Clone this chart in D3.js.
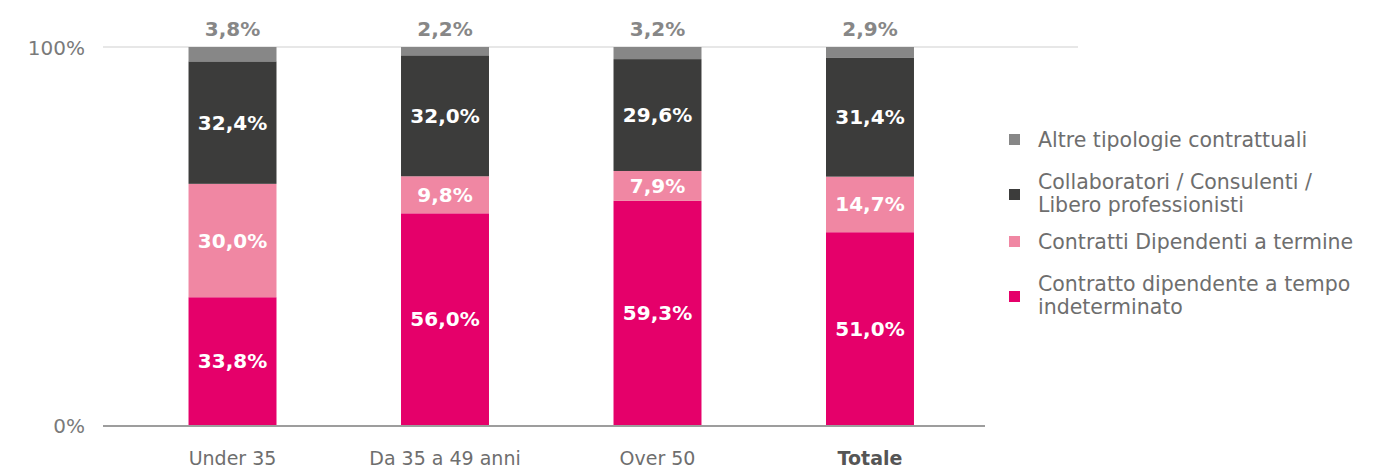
<!DOCTYPE html>
<html>
<head>
<meta charset="utf-8">
<script src="https://cdn.jsdelivr.net/npm/d3@7"></script>
<style>
  body { margin: 0; background: #fff; }
  text { font-family: "DejaVu Sans", sans-serif; }
</style>
</head>
<body>
<script>
// categories and series (values in %)
const categories = ["Under 35", "Da 35 a 49 anni", "Over 50", "Totale"];
const tempoIndeterminato = [33.8, 56.0, 59.3, 51.0];
const termine = [30.0, 9.8, 7.9, 14.7];
const collaboratori = [32.4, 32.0, 29.6, 31.4];
const altre = [3.8, 2.2, 3.2, 2.9];
const yTicks = [0, 100];

const series = [
    { name: "Contratto dipendente a tempo indeterminato", lines: ["Contratto dipendente a tempo", "indeterminato"], values: tempoIndeterminato, color: "#e5006a", label: "#fff" },
    { name: "Contratti Dipendenti a termine", lines: ["Contratti Dipendenti a termine"], values: termine, color: "#f087a3", label: "#fff" },
    { name: "Collaboratori / Consulenti / Libero professionisti", lines: ["Collaboratori / Consulenti /", "Libero professionisti"], values: collaboratori, color: "#3c3c3b", label: "#fff" },
    { name: "Altre tipologie contrattuali", lines: ["Altre tipologie contrattuali"], values: altre, color: "#878787", label: "#878787" }
];

const width = 1374, height = 470;
const svg = d3.select("body").append("svg")
    .attr("width", width)
    .attr("height", height);

const x = d3.scaleBand()
    .domain(categories)
    .range([64, 1038.5])
    .padding(0.586);

const y = d3.scaleLinear()
    .domain([0, 100])
    .range([425, 47]);

// gridline at 100%
svg.append("line")
    .attr("x1", 103).attr("x2", 1078)
    .attr("y1", y(100)).attr("y2", y(100))
    .attr("stroke", "#cfcfcf").attr("stroke-width", 1.2);

// y labels
svg.selectAll(".ytick")
    .data(yTicks)
    .enter().append("text")
    .attr("x", 85)
    .attr("y", d => y(d) + 8)
    .attr("text-anchor", "end")
    .attr("font-size", 20)
    .attr("fill", "#7a7a7a")
    .text(d => d + "%");

// stacked data
const rows = categories.map((c, i) => {
    const r = { cat: c };
    series.forEach(s => r[s.name] = s.values[i]);
    return r;
});
const stack = d3.stack().keys(series.map(s => s.name));
const stacked = stack(rows);

const layers = svg.selectAll(".layer")
    .data(stacked)
    .enter().append("g")
    .attr("fill", (d, i) => series[i].color);

layers.selectAll("rect")
    .data(d => d)
    .enter().append("rect")
    .attr("x", d => x(d.data.cat))
    .attr("y", d => y(d[1]))
    .attr("width", x.bandwidth())
    .attr("height", d => y(d[0]) - y(d[1]));

// value labels
stacked.forEach((layer, i) => {
    const s = series[i];
    const last = i === stacked.length - 1;
    svg.selectAll(".lbl" + i)
        .data(layer)
        .enter().append("text")
        .attr("x", d => x(d.data.cat) + x.bandwidth() / 2)
        .attr("y", d => last ? y(d[1]) - 11 : (y(d[0]) + y(d[1])) / 2 + 7)
        .attr("text-anchor", "middle")
        .attr("font-size", 20)
        .attr("font-weight", "bold")
        .attr("fill", s.label)
        .text(d => (d[1] - d[0]).toFixed(1).replace(".", ",") + "%");
});

// baseline
svg.append("line")
    .attr("x1", 103).attr("x2", 985)
    .attr("y1", y(0) + 1).attr("y2", y(0) + 1)
    .attr("stroke", "#9d9d9d").attr("stroke-width", 2);

// x labels
svg.selectAll(".xlab")
    .data(categories)
    .enter().append("text")
    .attr("x", d => x(d) + x.bandwidth() / 2)
    .attr("y", 465)
    .attr("text-anchor", "middle")
    .attr("font-size", 19)
    .attr("font-weight", d => d === "Totale" ? "bold" : "normal")
    .attr("fill", d => d === "Totale" ? "#555" : "#6e6e6e")
    .text(d => d);

// legend (top to bottom reversed order)
const legendItems = series.slice().reverse();
const legendY = [140, 193, 242, 295];
const legend = svg.selectAll(".legend")
    .data(legendItems)
    .enter().append("g")
    .attr("transform", (d, i) => `translate(1009, ${legendY[i]})`);

legend.append("rect")
    .attr("x", 0).attr("y", (d) => d.lines.length > 1 ? -4 : -6)
    .attr("width", 11).attr("height", 11)
    .attr("fill", d => d.color);

legend.each(function (d) {
    const g = d3.select(this);
    const n = d.lines.length;
    d.lines.forEach((line, j) => {
        g.append("text")
            .attr("x", 29)
            .attr("y", (j - (n - 1) / 2) * 23 + 7)
            .attr("font-size", 20.5)
            .attr("fill", "#6e6e6e")
            .text(line);
    });
});
</script>
</body>
</html>
